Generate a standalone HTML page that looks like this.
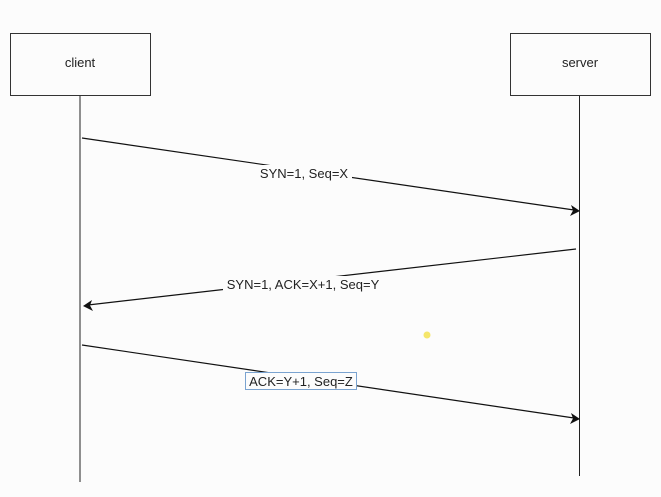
<!DOCTYPE html>
<html><head><style>
body{margin:0;width:661px;height:492px;background:#fcfcfc;overflow:hidden;font-family:"Liberation Sans",sans-serif}
</style></head><body>
<svg width="661" height="492" xmlns="http://www.w3.org/2000/svg" font-family="Liberation Sans, sans-serif" font-size="13" fill="#222">
<rect x="10.5" y="33.5" width="140" height="62" fill="none" stroke="#333"/>
<rect x="510.5" y="33.5" width="140" height="62" fill="none" stroke="#333"/>
<text x="80" y="67" text-anchor="middle">client</text>
<text x="580" y="67" text-anchor="middle">server</text>
<line x1="80" y1="96" x2="80" y2="482" stroke="#222"/>
<line x1="579.5" y1="96" x2="579.5" y2="476" stroke="#222"/>
<g stroke="#111" stroke-width="1.2">
<line x1="82" y1="138" x2="574" y2="210"/>
<line x1="576" y1="249" x2="88" y2="305"/>
<line x1="82" y1="345" x2="574" y2="418"/>
</g>
<polygon points="580,211 571,205 573,210.5 570,216" fill="#111"/>
<polygon points="83,306 92,300 90,305.5 93,311" fill="#111"/>
<polygon points="580,419 571,413 573,418.5 570,424" fill="#111"/>
<rect x="258" y="165" width="94" height="16" fill="#fcfcfc"/>
<text x="304" y="178" text-anchor="middle">SYN=1, Seq=X</text>
<rect x="223" y="276" width="163" height="16" fill="#fcfcfc"/>
<text x="303" y="289" text-anchor="middle">SYN=1, ACK=X+1, Seq=Y</text>
<rect x="245.5" y="372.5" width="111" height="17" fill="#fcfcfc" stroke="#7aa3d0"/>
<text x="301" y="386" text-anchor="middle">ACK=Y+1, Seq=Z</text>
<circle cx="427" cy="335" r="3.5" fill="#f5e66a"/>
</svg>
</body></html>
